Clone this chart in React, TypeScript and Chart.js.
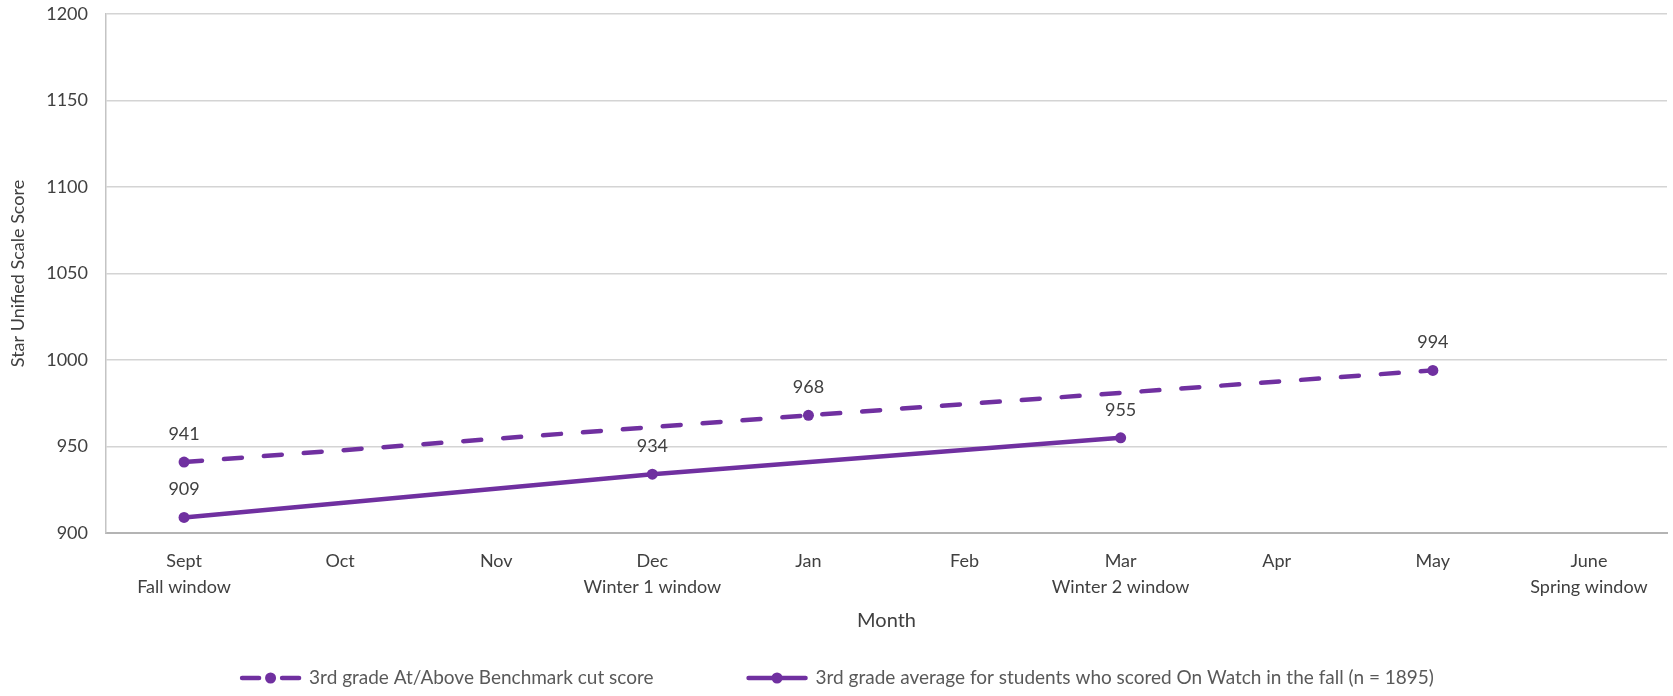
import React, { useEffect, useRef } from "react";
import { Chart, registerables } from "chart.js";

Chart.register(...registerables);

const categories: string[][] = [
  ["Sept", "Fall window"],
  ["Oct"],
  ["Nov"],
  ["Dec", "Winter 1 window"],
  ["Jan"],
  ["Feb"],
  ["Mar", "Winter 2 window"],
  ["Apr"],
  ["May"],
  ["June", "Spring window"],
];

const benchmarkValues: (number | null)[] = [941, null, null, null, 968, null, null, null, 994, null];
const onWatchValues: (number | null)[] = [909, null, null, 934, null, null, 955, null, null, null];

const seriesLabels: string[] = [
  "3rd grade At/Above Benchmark cut score",
  "3rd grade average for students who scored On Watch in the fall (n = 1895)",
];

const yTicks: number[] = [900, 950, 1000, 1050, 1100, 1150, 1200];
const yAxisTitle = "Star Unified Scale Score";
const xAxisTitle = "Month";

const PURPLE = "#7030A0";
const FONT = "Lato, 'DejaVu Sans', sans-serif";
const TEXT = "#404040";

const dataLabelPlugin = {
  id: "dataLabels",
  afterDatasetsDraw(chart: any) {
    const ctx = chart.ctx;
    ctx.save();
    ctx.font = `18px ${FONT}`;
    ctx.fillStyle = TEXT;
    ctx.textAlign = "center";
    ctx.textBaseline = "middle";
    chart.data.datasets.forEach((ds: any, i: number) => {
      const meta = chart.getDatasetMeta(i);
      meta.data.forEach((pt: any, j: number) => {
        const v = ds.data[j];
        if (v == null) return;
        ctx.fillText(String(v), pt.x, pt.y - 28);
      });
    });
    ctx.restore();
  },
};

const legendPlugin = {
  id: "customLegend",
  afterDraw(chart: any) {
    const ctx = chart.ctx;
    ctx.save();
    ctx.font = `19px ${FONT}`;
    const markerW = 63;
    const textGap = 7;
    const itemGap = 92;
    const dsets = chart.data.datasets;
    const widths = dsets.map((d: any) => ctx.measureText(d.label).width);
    const total =
      widths.reduce((a: number, w: number) => a + markerW + textGap + w, 0) +
      itemGap * (dsets.length - 1);
    let x = chart.width / 2 - total / 2;
    const y = 678;
    dsets.forEach((d: any, i: number) => {
      ctx.strokeStyle = d.borderColor;
      ctx.lineWidth = d.borderWidth;
      ctx.lineCap = "round";
      ctx.beginPath();
      if (d.borderDash && d.borderDash.length) {
        ctx.moveTo(x + 3, y);
        ctx.lineTo(x + 20, y);
        ctx.moveTo(x + markerW - 20, y);
        ctx.lineTo(x + markerW - 3, y);
      } else {
        ctx.moveTo(x + 3, y);
        ctx.lineTo(x + markerW - 3, y);
      }
      ctx.stroke();
      ctx.fillStyle = d.pointBackgroundColor;
      ctx.beginPath();
      ctx.arc(x + markerW / 2, y, 5.5, 0, Math.PI * 2);
      ctx.fill();
      ctx.fillStyle = "#595959";
      ctx.textAlign = "left";
      ctx.textBaseline = "middle";
      ctx.fillText(d.label, x + markerW + textGap, y);
      x += markerW + textGap + widths[i] + itemGap;
    });
    ctx.restore();
  },
};

export default function App() {
  const canvasRef = useRef<HTMLCanvasElement | null>(null);

  useEffect(() => {
    document.body.style.margin = "0";
    const canvas = canvasRef.current;
    if (!canvas) return;
    const chart = new Chart(canvas, {
      type: "line",
      data: {
        labels: categories,
        datasets: [
          {
            label: seriesLabels[0],
            data: benchmarkValues,
            borderColor: PURPLE,
            backgroundColor: PURPLE,
            pointBackgroundColor: PURPLE,
            pointBorderWidth: 0,
            pointRadius: 5.5,
            borderWidth: 4.5,
            borderDash: [18, 22],
            borderCapStyle: "round",
            spanGaps: true,
            tension: 0,
          },
          {
            label: seriesLabels[1],
            data: onWatchValues,
            borderColor: PURPLE,
            backgroundColor: PURPLE,
            pointBackgroundColor: PURPLE,
            pointBorderWidth: 0,
            pointRadius: 5.5,
            borderWidth: 4.5,
            borderDash: [],
            borderCapStyle: "round",
            spanGaps: true,
            tension: 0,
          },
        ],
      },
      options: {
        animation: false,
        responsive: true,
        maintainAspectRatio: false,
        layout: { padding: { top: 14, right: 6, bottom: 53, left: 0 } },
        plugins: {
          legend: { display: false },
          tooltip: { enabled: false },
        },
        scales: {
          x: {
            offset: true,
            grid: { display: false, drawTicks: false },
            border: { display: true, color: "#b4b4b4", width: 2 },
            ticks: {
              color: TEXT,
              font: { family: FONT, size: 18, lineHeight: 1.4 },
              padding: 16,
              maxRotation: 0,
              autoSkip: false,
            },
            title: {
              display: true,
              text: xAxisTitle,
              color: TEXT,
              font: { family: FONT, size: 20, lineHeight: 1.2 },
              padding: { top: 0, bottom: 10 },
            },
            afterFit: (scale: any) => {
              scale.height = 110;
            },
          },
          y: {
            min: yTicks[0],
            max: yTicks[yTicks.length - 1],
            afterBuildTicks: (scale: any) => {
              scale.ticks = yTicks.map((v) => ({ value: v }));
            },
            grid: { color: "#d4d4d4", lineWidth: 1.5, drawTicks: false },
            border: { display: true, color: "#c4c4c4", width: 1.5 },
            ticks: {
              color: TEXT,
              font: { family: FONT, size: 18 },
              padding: 18,
              callback: (v: any) => String(v),
            },
            title: {
              display: true,
              text: yAxisTitle,
              color: TEXT,
              font: { family: FONT, size: 18, lineHeight: 1.2 },
              padding: { top: 7, bottom: 0 },
            },
            afterFit: (scale: any) => {
              scale.width = 106;
              scale.paddingTop = 0;
              scale.paddingBottom = 0;
            },
          },
        },
      },
      plugins: [dataLabelPlugin, legendPlugin],
    } as any);
    return () => chart.destroy();
  }, []);

  return (
    <div style={{ width: 1673, height: 696, position: "relative" }}>
      <canvas ref={canvasRef} />
    </div>
  );
}
